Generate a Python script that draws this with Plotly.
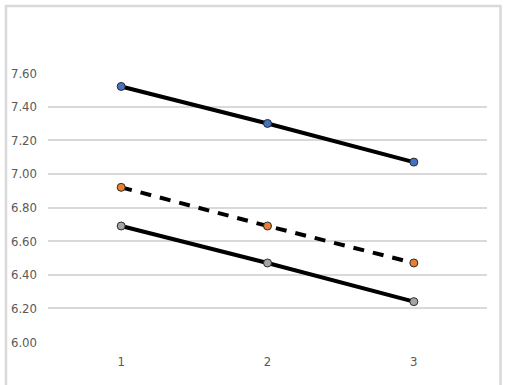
import plotly.graph_objects as go

categories = [1, 2, 3]
series_top = [7.52, 7.30, 7.07]
series_mid = [6.92, 6.69, 6.47]
series_bot = [6.69, 6.47, 6.24]
y_ticks = [6.00, 6.20, 6.40, 6.60, 6.80, 7.00, 7.20, 7.40, 7.60]
y_tick_labels = [f"{v:.2f}" for v in y_ticks]

fig = go.Figure()

def add(vals, color, dash):
    fig.add_trace(go.Scatter(
        x=categories, y=vals, mode="lines+markers",
        line=dict(color="black", width=4, dash=dash),
        marker=dict(size=8, color=color, line=dict(color="#2b2b2b", width=1)),
        showlegend=False, hoverinfo="skip"))

add(series_top, "#4472C4", "solid")
add(series_mid, "#ED7D31", "11px,9px")
add(series_bot, "#A5A5A5", "solid")

fig.update_layout(
    width=505, height=385,
    margin=dict(l=48, r=18, t=73, b=43, autoexpand=False),
    paper_bgcolor="white", plot_bgcolor="white",
    font=dict(family="DejaVu Sans Condensed, Liberation Sans Narrow, sans-serif", size=13, color="#595959"),
    xaxis=dict(range=[0.5, 3.5], tickvals=categories, ticktext=[str(c) for c in categories],
               showgrid=False, zeroline=False, showline=False, ticks="", ticklabelstandoff=10,
               automargin=False),
    yaxis=dict(range=[6.0, 7.6], tickvals=y_ticks, ticktext=y_tick_labels,
               showgrid=True, gridcolor="#D9D9D9", gridwidth=1.5, zeroline=False,
               showline=False, ticks="", ticklabelstandoff=10, automargin=False),
    shapes=[dict(type="rect", xref="paper", yref="paper",
                 x0=(6 - 48) / 439, x1=(500.5 - 48) / 439,
                 y0=-0.3, y1=(342 - 6) / 269,
                 line=dict(color="#D9D9D9", width=2.5), layer="below")],
)

fig.write_html("out.html", config={"displayModeBar": False},
               post_script="document.body.style.margin='0';document.body.style.overflow='hidden';")
